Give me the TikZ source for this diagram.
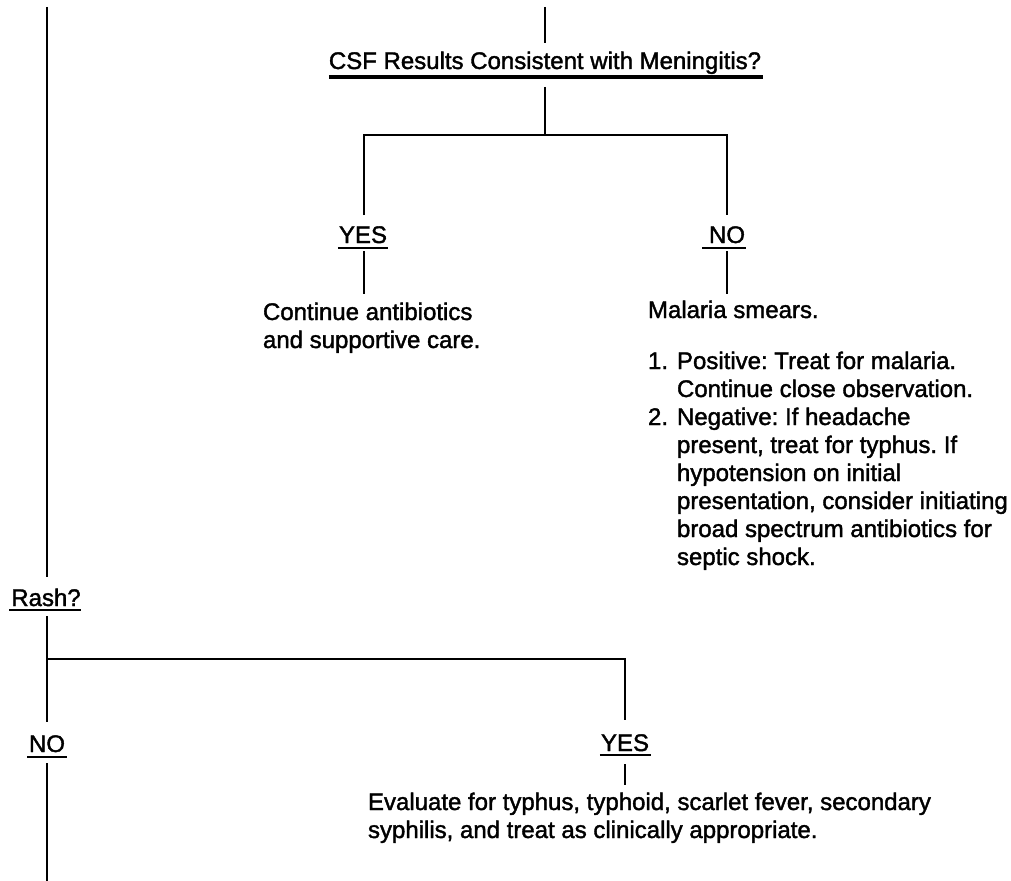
\documentclass[tikz,border=0pt]{standalone}
\usepackage{fontspec}
\setmainfont{Liberation Sans}[FakeBold=1.6]
\usetikzlibrary{calc}
\frenchspacing
\begin{document}
\begin{tikzpicture}[x=0.75pt,y=-0.75pt,
  txt/.style={inner sep=0pt, outer sep=0pt, font=\fontsize{18pt}{21pt}\selectfont\frenchspacing},
  lbl/.style={txt, anchor=base},
  blk/.style={txt, anchor=base west, align=left},
  conn/.style={line width=2.2pt},
  ul/.style={line width=1.7pt},
  ulthick/.style={line width=2.3pt}]
\useasboundingbox (0,0) rectangle (1011,881);

% ---------- junction / end coordinates ----------
\coordinate (ltop) at (47,7);
\coordinate (lend) at (47,577);
\coordinate (ctop) at (545,7);
\coordinate (cabove) at (545,43);
\coordinate (cbelow) at (545,87);
\coordinate (cjoin) at (545,135);
\coordinate (ybar) at (364,135);
\coordinate (nbar) at (727,135);
\coordinate (yend) at (364,215);
\coordinate (nend) at (727,215);
\coordinate (ystart) at (364,251);
\coordinate (ystop) at (364,294);
\coordinate (nstart) at (727,251);
\coordinate (nstop) at (727,294);
\coordinate (rstart) at (47,616);
\coordinate (rjoin) at (47,659);
\coordinate (rnoend) at (47,722);
\coordinate (rybar) at (625,659);
\coordinate (ryend) at (625,720);
\coordinate (rnostart) at (47,763);
\coordinate (rnobottom) at (47,881);
\coordinate (rystart) at (625,764);
\coordinate (rystop) at (625,785);

% ---------- text (multi-line nodes are placed by their last baseline) ----------
\node[lbl] (csf) at (545,69) {CSF Results Consistent with Meningitis?};
\node[lbl] (yes1) at (363,243) {YES};
\node[lbl] (no1) at (727,243) {NO};
\node[blk] (cont) at (263,348) {Continue antibiotics\\and supportive care.};
\node[blk] (mal) at (648,318) {Malaria smears.};
\node[blk] (list) at (648,565) {\makebox[21.75pt][l]{1.}Positive: Treat for malaria.\\
\hspace*{21.75pt}Continue close observation.\\
\makebox[21.75pt][l]{2.}Negative: If headache\\
\hspace*{21.75pt}present, treat for typhus. If\\
\hspace*{21.75pt}hypotension on initial\\
\hspace*{21.75pt}presentation, consider initiating\\
\hspace*{21.75pt}broad spectrum antibiotics for\\
\hspace*{21.75pt}septic shock.};
\node[lbl] (rash) at (46,606) {Rash?};
\node[lbl] (no2) at (47,752) {NO};
\node[lbl] (yes2) at (625,751) {YES};
\node[blk] (eval) at (368,838) {Evaluate for typhus, typhoid, scarlet fever, secondary\\syphilis, and treat as clinically appropriate.};

% ---------- underlines ----------
\draw[ulthick] ($(csf.base west)+(0,8)$) -- ($(csf.base east)+(2,8)$);
\draw[ul] ($(yes1.base west)+(-1,5)$) -- ($(yes1.base east)+(1,5)$);
\draw[ul] ($(no1.base west)+(-7,5)$) -- ($(no1.base east)+(1,5)$);
\draw[ul] ($(rash.base west)+(-2,4)$) -- ($(rash.base east)+(0,4)$);
\draw[ul] ($(no2.base west)+(-2,5)$) -- ($(no2.base east)+(2,5)$);
\draw[ul] ($(yes2.base west)+(-1,4)$) -- ($(yes2.base east)+(2,4)$);

% ---------- connectors ----------
\draw[conn] (ltop) -- (lend);
\draw[conn] (ctop) -- (cabove);
\draw[conn] (cbelow) -- (cjoin);
\draw[conn] (yend) -- (ybar) -- (nbar) -- (nend);
\draw[conn] (ystart) -- (ystop);
\draw[conn] (nstart) -- (nstop);
\draw[conn] (rstart) -- (rnoend);
\draw[conn] (rjoin) -- (rybar) -- (ryend);
\draw[conn] (rnostart) -- (rnobottom);
\draw[conn] (rystart) -- (rystop);
\end{tikzpicture}
\end{document}
